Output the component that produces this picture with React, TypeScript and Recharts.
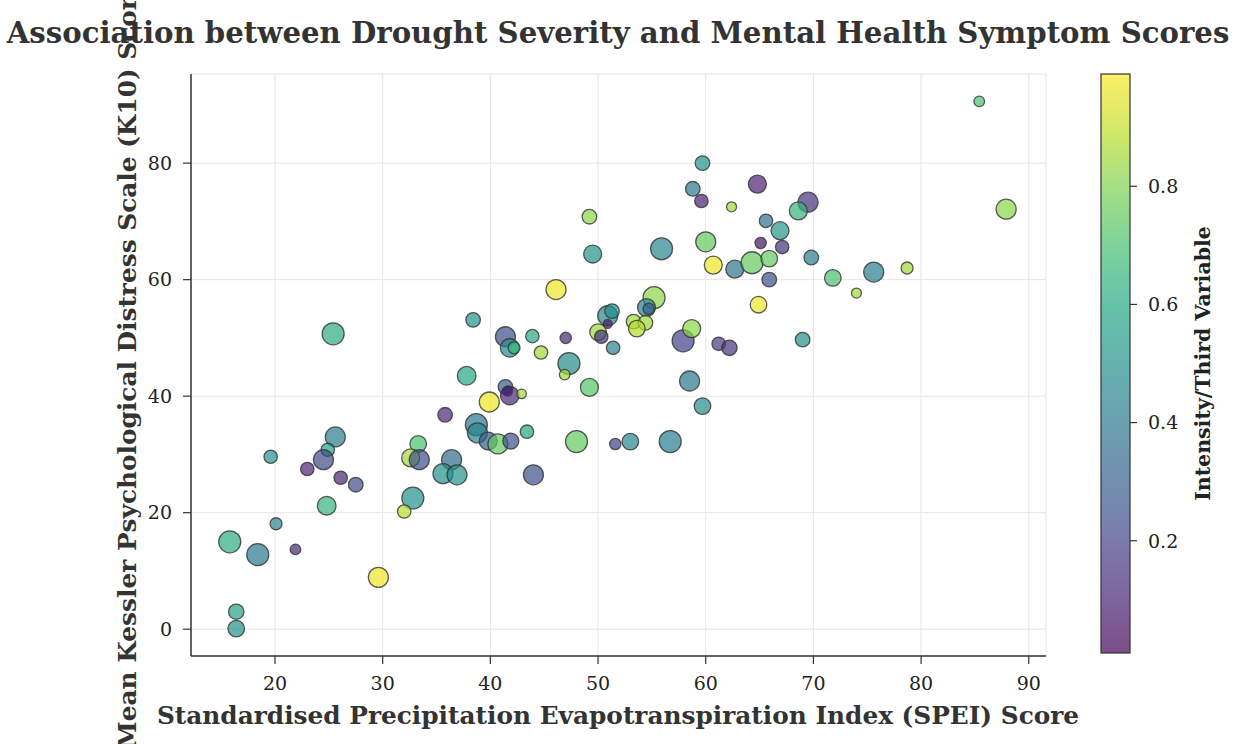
import { ScatterChart, Scatter, XAxis, YAxis, ZAxis, CartesianGrid, Cell } from "recharts";

// SPEI score (x), mean K10 score (y), third variable (colour), bubble weight (area)
const spei = [
  19.6, 25.6, 24.9, 24.5, 23.0, 26.1, 27.5, 24.8, 20.1, 15.8,
  18.4, 21.9, 29.6, 16.4, 16.4, 33.3, 32.6, 33.4, 32.8, 32.0,
  46.1, 38.4, 41.4, 41.8, 42.2, 43.9, 47.0, 44.7, 47.3, 46.9,
  49.2, 37.8, 41.4, 41.6, 41.8, 42.9, 39.9, 35.8, 38.7, 38.8,
  39.8, 40.7, 41.9, 43.4, 48.0, 51.6, 53.0, 36.4, 35.6, 36.9,
  44.0, 50.9, 51.3, 50.9, 50.0, 50.3, 51.4, 59.7, 58.8, 59.6,
  64.8, 62.4, 69.5, 68.6, 65.6, 66.9, 65.1, 67.1, 60.0, 55.9,
  49.2, 49.5, 60.7, 62.7, 64.3, 65.9, 69.8, 71.8, 65.9, 64.9,
  69.0, 61.2, 62.2, 57.9, 58.7, 55.2, 54.5, 54.7, 53.3, 54.4,
  53.6, 58.5, 59.7, 56.7, 85.4, 87.9, 74.0, 75.6, 78.7, 25.4,
];

const k10 = [
  29.6, 33.0, 30.8, 29.1, 27.5, 26.0, 24.8, 21.2, 18.1, 15.0,
  12.8, 13.7, 8.9, 3.0, 0.1, 31.8, 29.4, 29.1, 22.5, 20.2,
  58.3, 53.1, 50.2, 48.3, 48.3, 50.3, 50.0, 47.5, 45.6, 43.7,
  41.5, 43.5, 41.6, 40.9, 40.1, 40.4, 39.0, 36.8, 35.1, 33.7,
  32.3, 31.8, 32.3, 33.9, 32.2, 31.8, 32.2, 29.1, 26.7, 26.5,
  26.5, 53.8, 54.6, 52.4, 51.0, 50.2, 48.3, 80.0, 75.6, 73.5,
  76.4, 72.5, 73.3, 71.8, 70.1, 68.4, 66.3, 65.6, 66.5, 65.3,
  70.8, 64.4, 62.5, 61.8, 62.9, 63.6, 63.8, 60.3, 60.0, 55.7,
  49.7, 49.0, 48.3, 49.5, 51.6, 56.9, 55.2, 55.0, 52.8, 52.6,
  51.6, 42.6, 38.3, 32.2, 90.6, 72.1, 57.7, 61.3, 62.0, 50.7,
];

const intensity = [
  0.50, 0.42, 0.58, 0.23, 0.11, 0.11, 0.23, 0.65, 0.45, 0.62,
  0.40, 0.11, 0.97, 0.58, 0.50, 0.70, 0.85, 0.23, 0.50, 0.88,
  0.97, 0.50, 0.25, 0.48, 0.65, 0.60, 0.12, 0.85, 0.48, 0.85,
  0.72, 0.60, 0.30, 0.03, 0.12, 0.85, 0.97, 0.11, 0.40, 0.45,
  0.30, 0.75, 0.25, 0.60, 0.75, 0.20, 0.45, 0.35, 0.50, 0.50,
  0.25, 0.45, 0.50, 0.08, 0.85, 0.15, 0.45, 0.50, 0.40, 0.10,
  0.10, 0.85, 0.15, 0.65, 0.38, 0.52, 0.07, 0.15, 0.75, 0.45,
  0.82, 0.50, 0.97, 0.38, 0.75, 0.75, 0.42, 0.70, 0.25, 0.97,
  0.50, 0.18, 0.15, 0.20, 0.82, 0.82, 0.42, 0.30, 0.85, 0.85,
  0.88, 0.40, 0.48, 0.42, 0.70, 0.82, 0.85, 0.42, 0.85, 0.62,
];

const bubbleSize = [
  141, 314, 141, 314, 141, 141, 167, 272, 113, 380,
  380, 88, 314, 186, 216, 216, 254, 314, 380, 141,
  314, 167, 314, 272, 113, 141, 100, 141, 380, 88,
  254, 272, 167, 79, 272, 70, 314, 167, 380, 314,
  254, 314, 201, 141, 380, 100, 216, 314, 314, 314,
  314, 314, 167, 64, 216, 141, 141, 167, 167, 141,
  254, 79, 314, 254, 141, 254, 100, 141, 314, 380,
  167, 254, 254, 254, 380, 216, 167, 216, 167, 216,
  167, 141, 186, 380, 254, 380, 254, 100, 167, 167,
  216, 314, 216, 380, 88, 314, 79, 314, 113, 380,
];

const xTicks = [20, 30, 40, 50, 60, 70, 80, 90];
const yTicks = [0, 20, 40, 60, 80];
const cbarTicks = [0.2, 0.4, 0.6, 0.8];

const cMin = 0.01;
const cMax = 0.99;

const data = spei.map((x, i) => ({ x, y: k10[i], c: intensity[i], s: bubbleSize[i] }));

const VIRIDIS = [
  "#440154", "#482475", "#414487", "#355f8d", "#2a788e", "#21918c",
  "#22a884", "#44bf70", "#7ad151", "#bddf26", "#fde725",
];

function hex(h: string) {
  return [1, 3, 5].map((i) => parseInt(h.slice(i, i + 2), 16));
}

function viridis(t: number) {
  const v = Math.max(0, Math.min(1, t)) * 10;
  const i = Math.min(9, Math.floor(v));
  const f = v - i;
  const a = hex(VIRIDIS[i]);
  const b = hex(VIRIDIS[i + 1]);
  const m = a.map((ch, k) => Math.round(ch + (b[k] - ch) * f));
  return `rgb(${m[0]},${m[1]},${m[2]})`;
}

const norm = (c: number) => (c - cMin) / (cMax - cMin);

const FONT = "'DejaVu Serif', serif";
const INK = "#333333";

const W = 1243;
const H = 744;
const M = { top: 74, right: 197, bottom: 58, left: 131 };

// colour bar box
const CB = { x: 1101, y: 74, w: 29, h: 579 };

function ColourBar() {
  const stops = Array.from({ length: 21 }, (_, i) => i / 20);
  const yOf = (v: number) => CB.y + CB.h - norm(v) * CB.h;
  return (
    <g>
      <defs>
        <linearGradient id="cbgrad" x1="0" y1="1" x2="0" y2="0">
          {stops.map((s) => (
            <stop key={s} offset={s} stopColor={viridis(s)} stopOpacity={0.7} />
          ))}
        </linearGradient>
      </defs>
      <rect x={CB.x} y={CB.y} width={CB.w} height={CB.h} fill="url(#cbgrad)" stroke={INK} strokeWidth={1.2} />
      {cbarTicks.map((t) => (
        <g key={t}>
          <line x1={CB.x + CB.w} x2={CB.x + CB.w + 7} y1={yOf(t)} y2={yOf(t)} stroke={INK} strokeWidth={1.2} />
          <text x={CB.x + CB.w + 18} y={yOf(t)} dy="0.36em" fontFamily={FONT} fontSize={19} fill="#222">
            {t.toFixed(1)}
          </text>
        </g>
      ))}
      <text
        transform={`translate(${1210}, ${CB.y + CB.h / 2}) rotate(-90)`}
        textAnchor="middle"
        fontFamily={FONT}
        fontWeight="bold"
        fontSize={20.5}
        fill="#222"
      >
        Intensity/Third Variable
      </text>
    </g>
  );
}

export default function App() {
  return (
    <div style={{ position: "absolute", left: 0, top: 0, width: W, height: H, background: "#fff" }}>
      <ScatterChart width={W} height={H} margin={M}>
        <CartesianGrid stroke="#e6e6e6" strokeWidth={1} />
        <XAxis
          type="number"
          dataKey="x"
          domain={[12.2, 91.6]}
          ticks={xTicks}
          allowDataOverflow
          height={30}
          tickSize={8}
          tickMargin={13}
          axisLine={{ stroke: INK, strokeWidth: 1.5 }}
          tickLine={{ stroke: INK, strokeWidth: 1.2 }}
          tick={{ fontFamily: FONT, fontSize: 19, fill: "#222" }}
        />
        <YAxis
          type="number"
          dataKey="y"
          domain={[-4.6, 95.3]}
          ticks={yTicks}
          allowDataOverflow
          width={60}
          tickSize={8}
          tickMargin={11}
          axisLine={{ stroke: INK, strokeWidth: 1.5 }}
          tickLine={{ stroke: INK, strokeWidth: 1.2 }}
          tick={{ fontFamily: FONT, fontSize: 19, fill: "#222" }}
        />
        <ZAxis type="number" dataKey="s" domain={[0, 400]} range={[0, 400]} />
        <Scatter data={data} isAnimationActive={false} shape="circle">
          {data.map((d, i) => (
            <Cell
              key={i}
              fill={viridis(norm(d.c))}
              fillOpacity={0.7}
              stroke="#333"
              strokeOpacity={0.8}
              strokeWidth={1.3}
            />
          ))}
        </Scatter>
      </ScatterChart>
      <svg width={W} height={H} style={{ position: "absolute", left: 0, top: 0, pointerEvents: "none" }}>
        <text x={618} y={43} textAnchor="middle" fontFamily={FONT} fontWeight="bold" fontSize={29.2} fill={INK}>
          Association between Drought Severity and Mental Health Symptom Scores
        </text>
        <text x={618} y={724} textAnchor="middle" fontFamily={FONT} fontWeight="bold" fontSize={24.8} fill={INK}>
          Standardised Precipitation Evapotranspiration Index (SPEI) Score
        </text>
        <text
          transform={`translate(${136}, ${365}) rotate(-90)`}
          textAnchor="middle"
          fontFamily={FONT}
          fontWeight="bold"
          fontSize={24.8}
          fill={INK}
        >
          Mean Kessler Psychological Distress Scale (K10) Score
        </text>
        <ColourBar />
      </svg>
    </div>
  );
}
